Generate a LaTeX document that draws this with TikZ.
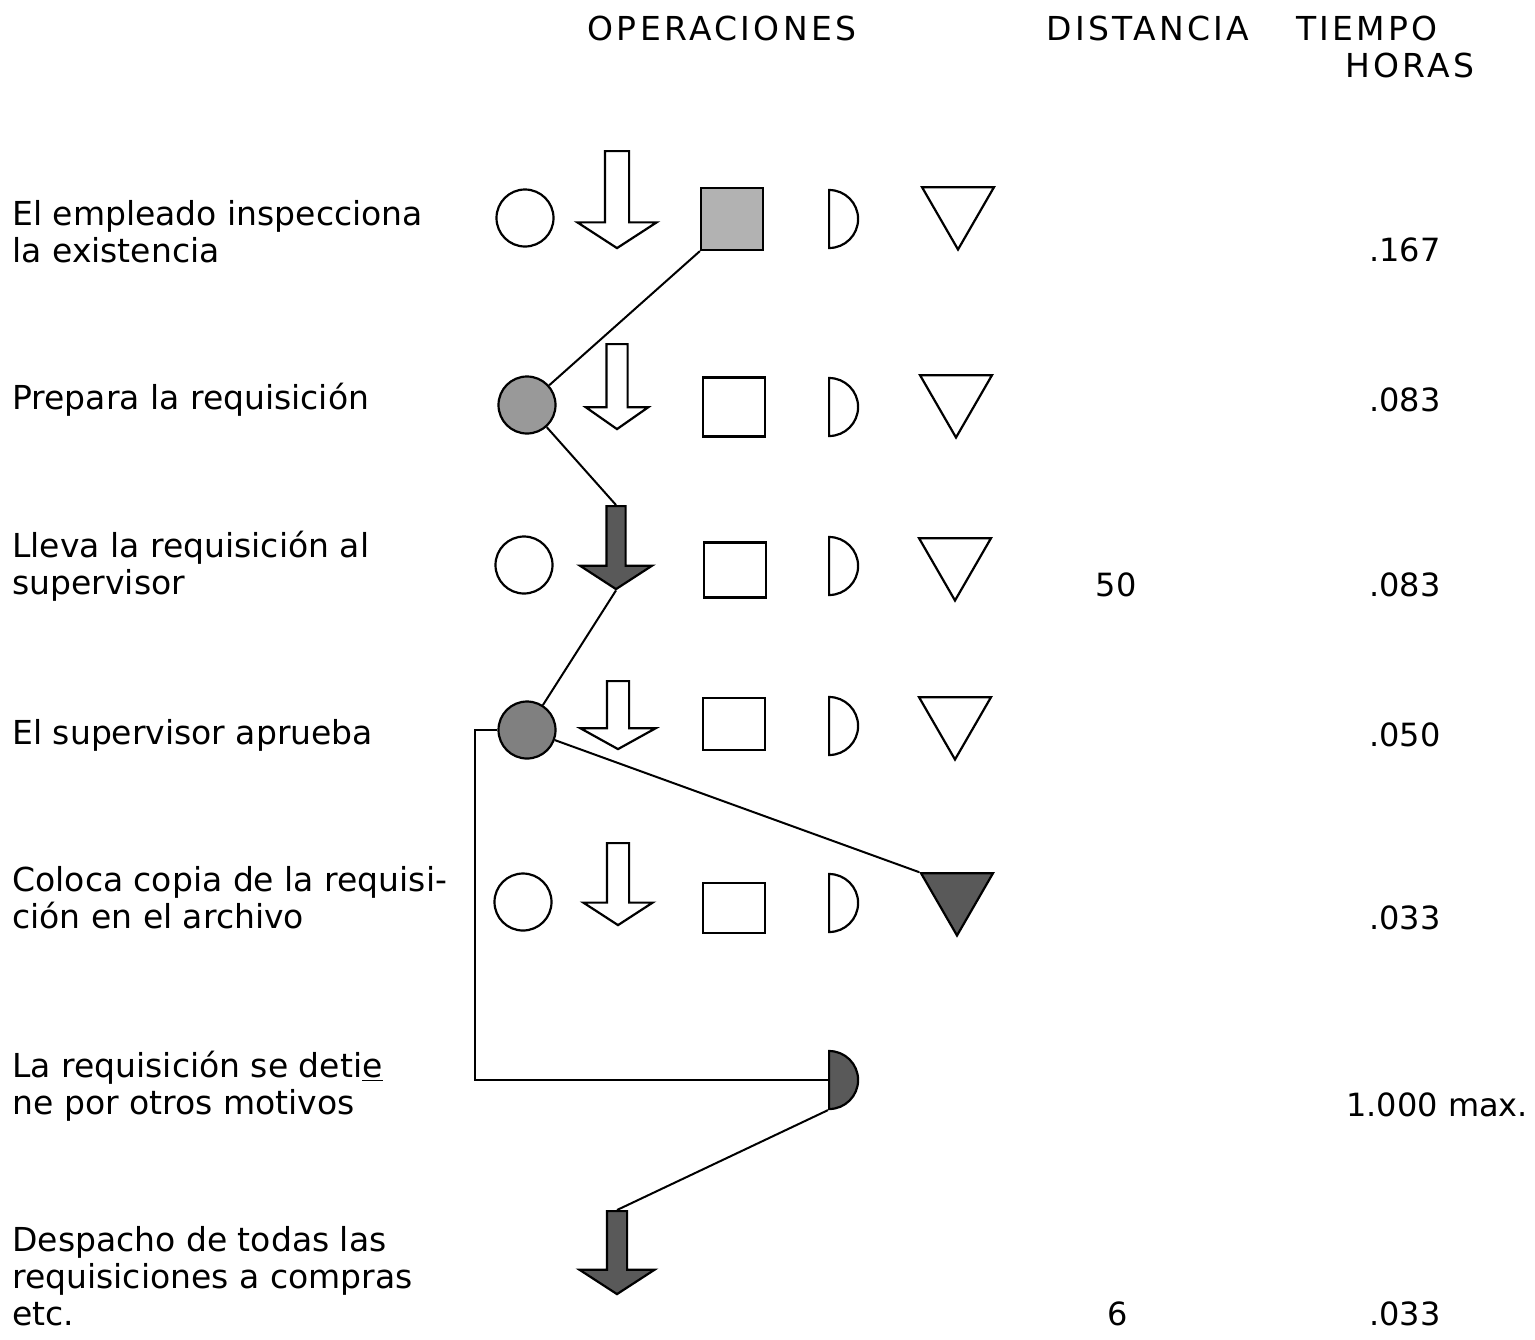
\documentclass[tikz,border=0pt]{standalone}
\usepackage{fontspec}
\setmainfont{DejaVu Sans}
\newfontfamily\headfont[LetterSpace=10]{DejaVu Sans}
\usetikzlibrary{shapes.geometric, shapes.arrows, positioning}

\begin{document}
\begin{tikzpicture}[
  x=0.5pt, y=-0.5pt,
  txt/.style={font=\fontsize{16.5}{18.5}\selectfont, align=left, anchor=west, inner sep=0pt},
  hdr/.style={font=\fontsize{16.5}{18}\selectfont\headfont, inner sep=0pt},
  num/.style={font=\fontsize{16}{18}\selectfont, anchor=east, inner sep=0pt},
  sym/.style={draw, line width=1.1pt, inner sep=0pt},
  opcirc/.style={sym, circle, minimum size=28.5pt},
  transp/.style={sym, single arrow, rotate=-90, anchor=tail, inner xsep=0pt, inner ysep=5pt,
                 single arrow head extend=13.5pt, single arrow tip angle=114,
                 minimum height=48pt, minimum width=38pt},
  insp/.style={sym, rectangle, minimum width=31pt, minimum height=28pt},
  delay/.style={sym, semicircle, rotate=-90, anchor=chord center, minimum width=29pt, minimum height=14.5pt},
  store/.style={sym, regular polygon, regular polygon sides=3, shape border rotate=180, minimum size=41.5pt},
  done/.style={fill=black!65},
  link/.style={line width=1pt}
]
\useasboundingbox (0,0) rectangle (1535,1339);

% column heads
\node[hdr] (hop)   at (722,28)  {OPERACIONES};
\node[hdr] (hdist) at (1148,28) {DISTANCIA};
\node[hdr] (htime) at (1367,28) {TIEMPO};
\node[hdr] (hhrs)  at (1410,65) {HORAS};

% steps
\node[txt] (l1) at (12,232)  {El empleado inspecciona\\la existencia};
\node[txt] (l2) at (12,400)  {Prepara la requisición};
\node[txt] (l3) at (12,566)  {Lleva la requisición al\\supervisor};
\node[txt] (l4) at (12,735)  {El supervisor aprueba};
\node[txt] (l5) at (12,898)  {Coloca copia de la requisi-\\ción en el archivo};
\node[txt] (l6) at (12,1086) {La requisición se deti\underline{e}\\ne por otros motivos};
\node[txt] (l7) at (12,1276) {Despacho de todas las\\requisiciones a compras\\etc.};

% row 1
\node[opcirc] (c1) at (525,218) {};
\node[transp, minimum height=48.5pt, minimum width=38.5pt, inner ysep=5.5pt, single arrow head extend=13.75pt] (a1) at (617,150) {};
\node[insp, fill=black!30, minimum height=31pt] (s1) at (732,219) {};
\node[delay] (d1) at (828,219) {};
\node[store] (st1) at (958,208) {};

% row 2
\node[opcirc, fill=black!40] (c2) at (527,405) {};
\node[transp, minimum height=42.5pt, minimum width=30pt, inner ysep=4.75pt, single arrow head extend=10.25pt, single arrow tip angle=110] (a2) at (617,343) {};
\node[insp, minimum height=29.5pt] (s2) at (734,407) {};
\node[delay] (d2) at (828,407) {};
\node[store] (st2) at (956,396) {};

% row 3
\node[opcirc] (c3) at (524,565) {};
\node[transp, done, minimum height=41.5pt, minimum width=35pt, inner ysep=4.25pt, single arrow head extend=13.25pt] (a3) at (616,505) {};
\node[insp, minimum height=27.5pt] (s3) at (735,570) {};
\node[delay] (d3) at (828,566) {};
\node[store] (st3) at (955,559) {};

% row 4
\node[opcirc, fill=black!50] (c4) at (527,730) {};
\node[transp, minimum height=34pt, minimum width=36.5pt, single arrow head extend=13.25pt, single arrow tip angle=122] (a4) at (618,680) {};
\node[insp, minimum height=26pt] (s4) at (734,724) {};
\node[delay] (d4) at (828,726) {};
\node[store] (st4) at (955,718) {};

% row 5
\node[opcirc] (c5) at (523,902) {};
\node[transp, minimum height=41pt, minimum width=33.5pt, single arrow head extend=11.75pt] (a5) at (618,842) {};
\node[insp, minimum height=25pt] (s5) at (734,908) {};
\node[delay] (d5) at (828,903) {};
\node[store, done] (st5) at (957,894) {};

% rows 6 and 7
\node[delay, done] (d6) at (828,1080) {};
\node[transp, done, minimum height=41.5pt, minimum width=36.5pt, inner ysep=4.5pt, single arrow head extend=13.75pt] (a7) at (617,1210) {};

% distance and time
\node[num, anchor=center] (ds3) at (1116,585)  {50};
\node[num, anchor=center] (ds7) at (1118,1314) {6};
\node[num] (tm1) at (1441,250)  {.167};
\node[num] (tm2) at (1441,400)  {.083};
\node[num] (tm3) at (1441,585)  {.083};
\node[num] (tm4) at (1441,735)  {.050};
\node[num] (tm5) at (1441,918)  {.033};
\node[num, anchor=west] (tm6) at (1346,1105) {1.000 max.};
\node[num] (tm7) at (1441,1314) {.033};

% path of the requisition
\coordinate (elbow) at (475,1080);
\draw[link] (s1.south west) -- (c2);
\draw[link] (c2) -- (a3.tail);
\draw[link] (a3.tip) -- (c4);
\draw[link] (c4) -- (st5.corner 3);
\draw[link] (c4.west) -| (elbow) -- (d6.chord center);
\draw[link] (d6.arc start) -- (a7.tail);
\end{tikzpicture}
\end{document}
